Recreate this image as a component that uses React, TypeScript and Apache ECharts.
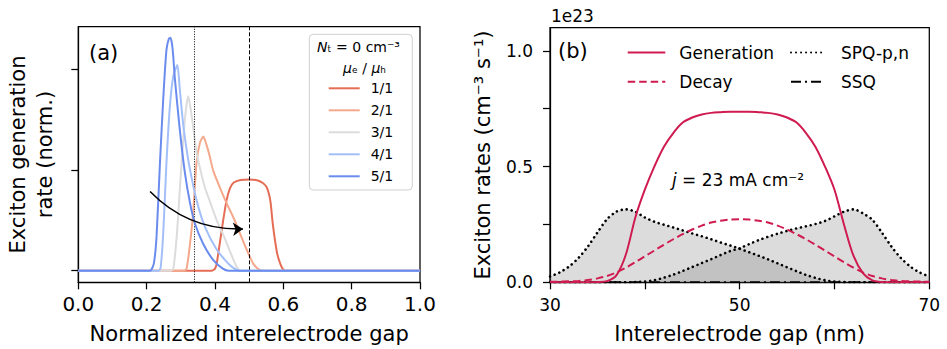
import React, { useEffect, useRef } from 'react';
import * as echarts from 'echarts';

const FONT = 'DejaVu Sans';
const CRIMSON = '#cf1b50';

// ---------- Panel (a): normalized exciton generation profiles ----------
const ratioLabels = ['1/1', '2/1', '3/1', '4/1', '5/1'];
const ratioColors = ['#e56d55', '#f5a98c', '#dcdcdc', '#a3bffa', '#6a8cee'];

const r1X = [0, 0.39, 0.4, 0.405, 0.414, 0.424, 0.434, 0.444, 0.455, 0.475, 0.5, 0.525, 0.54, 0.551, 0.558, 0.563, 0.568, 0.574, 0.582, 0.592, 0.6, 0.61, 1];
const r1Y = [0, 0, 0.02, 0.07, 0.27, 0.5, 0.7, 0.82, 0.875, 0.9, 0.905, 0.895, 0.87, 0.83, 0.76, 0.67, 0.5, 0.34, 0.17, 0.06, 0.01, 0, 0];

const r2X = [0, 0.31, 0.317, 0.327, 0.336, 0.346, 0.356, 0.366, 0.375, 0.385, 0.395, 0.415, 0.434, 0.455, 0.473, 0.49, 0.502, 0.512, 0.522, 0.53, 0.54, 1];
const r2Y = [0, 0, 0.02, 0.27, 0.57, 1.07, 1.27, 1.33, 1.25, 1.13, 0.99, 0.82, 0.67, 0.52, 0.37, 0.23, 0.14, 0.07, 0.03, 0.01, 0, 0];

const r3X = [0, 0.27, 0.278, 0.288, 0.297, 0.307, 0.315, 0.322, 0.332, 0.346, 0.358, 0.37, 0.388, 0.405, 0.425, 0.443, 0.455, 0.465, 0.475, 1];
const r3Y = [0, 0, 0.02, 0.34, 0.8, 1.3, 1.6, 1.73, 1.53, 1.17, 0.99, 0.83, 0.66, 0.5, 0.35, 0.2, 0.1, 0.03, 0, 0];

const r4X = [0, 0.235, 0.241, 0.249, 0.258, 0.268, 0.278, 0.29, 0.297, 0.307, 0.317, 0.327, 0.346, 0.37, 0.405, 0.439, 0.455, 0.47, 1];
const r4Y = [0, 0, 0.03, 0.4, 1.07, 1.63, 1.93, 2.04, 1.8, 1.45, 1.2, 1.0, 0.7, 0.44, 0.21, 0.07, 0.025, 0, 0];

const r5X = [0, 0.21, 0.221, 0.229, 0.239, 0.249, 0.258, 0.265, 0.27, 0.276, 0.283, 0.297, 0.312, 0.327, 0.341, 0.365, 0.394, 0.423, 0.44, 1];
const r5Y = [0, 0, 0.07, 0.34, 1.07, 1.73, 2.19, 2.3, 2.31, 2.2, 1.89, 1.4, 0.97, 0.67, 0.47, 0.27, 0.11, 0.02, 0, 0];

const ratioXs = [r1X, r2X, r3X, r4X, r5X];
const ratioYs = [r1Y, r2Y, r3Y, r4Y, r5Y];

const dottedLineX = 0.339;
const dashedLineX = 0.5;
const arrowStart = [0.21, 0.785];
const arrowEnd = [0.482, 0.414];
const yTicksA = [0, 1, 2];

// ---------- Panel (b): exciton rates (units of 1e23 cm^-3 s^-1) ----------
const gapB = [30, 31, 32, 33, 34, 35, 36, 37, 38, 39, 40, 41, 42, 43, 44, 45, 46, 47, 48, 49, 50, 51, 52, 53, 54, 55, 56, 57, 58, 59, 60, 61, 62, 63, 64, 65, 66, 67, 68, 69, 70];
const generation = [0, 0, 0, 0, 0, 0.001, 0.005, 0.03, 0.12, 0.28, 0.4, 0.5, 0.585, 0.645, 0.69, 0.712, 0.725, 0.732, 0.735, 0.737, 0.737, 0.737, 0.735, 0.732, 0.725, 0.712, 0.69, 0.645, 0.585, 0.5, 0.4, 0.25, 0.115, 0.04, 0.008, 0.001, 0, 0, 0, 0, 0];
const decay = [0.002, 0.003, 0.004, 0.006, 0.01, 0.017, 0.027, 0.043, 0.063, 0.087, 0.112, 0.137, 0.162, 0.186, 0.208, 0.228, 0.245, 0.258, 0.266, 0.271, 0.272, 0.271, 0.266, 0.258, 0.245, 0.228, 0.208, 0.186, 0.162, 0.137, 0.112, 0.087, 0.063, 0.043, 0.027, 0.017, 0.01, 0.006, 0.004, 0.003, 0.002];
const spqP = [0.025, 0.042, 0.068, 0.105, 0.155, 0.215, 0.272, 0.305, 0.315, 0.305, 0.28, 0.262, 0.249, 0.237, 0.224, 0.211, 0.199, 0.186, 0.172, 0.159, 0.145, 0.13, 0.115, 0.099, 0.082, 0.065, 0.048, 0.032, 0.019, 0.009, 0.003, 0.001, 0, 0, 0, 0, 0, 0, 0, 0, 0];
const spqN = [0, 0, 0, 0, 0, 0, 0, 0, 0, 0.001, 0.003, 0.009, 0.02, 0.033, 0.049, 0.066, 0.083, 0.1, 0.118, 0.135, 0.147, 0.165, 0.182, 0.197, 0.21, 0.222, 0.233, 0.242, 0.252, 0.265, 0.285, 0.305, 0.315, 0.298, 0.27, 0.215, 0.155, 0.105, 0.068, 0.042, 0.025];
const ssq = [0, 0, 0, 0, 0, 0, 0, 0, 0, 0, 0, 0, 0, 0, 0, 0, 0, 0, 0, 0, 0, 0, 0, 0, 0, 0, 0, 0, 0, 0, 0, 0, 0, 0, 0, 0, 0, 0, 0, 0, 0];
const xTicksB = [30, 40, 50, 60, 70];
const xLabelsB = [30, 50, 70];
const yTicksB = [0, 0.25, 0.5, 0.75, 1.0];
const yLabelsB = [0, 0.5, 1.0];

const zip = (xs: number[], ys: number[]) => xs.map((x, i) => [x, ys[i]]);

const axisLine = { show: true, onZero: false, lineStyle: { color: '#000', width: 1.25 } };
const tick = { show: true, inside: false, length: 7, lineStyle: { color: '#000', width: 1.25 } };
const nameStyle = { fontSize: 21, color: '#000', fontFamily: FONT };
const hiddenSymbol = { opacity: 0, color: 'transparent', borderWidth: 0 };

function buildOption(): any {
  const ratioSeries = ratioLabels.map((name, i) => ({
    type: 'line',
    name,
    xAxisIndex: 0,
    yAxisIndex: 0,
    data: zip(ratioXs[i], ratioYs[i]),
    symbol: 'none',
    showSymbol: false,
    smooth: 0.2,
    lineStyle: { color: ratioColors[i], width: 2 },
    itemStyle: { color: ratioColors[i] },
    z: 2 + i,
    ...(i === 4
      ? {
          markLine: {
            silent: true,
            symbol: ['none', 'none'],
            label: { show: false },
            data: [
              { xAxis: dottedLineX, lineStyle: { color: '#000', width: 1, type: [1, 1.5] } },
              { xAxis: dashedLineX, lineStyle: { color: '#000', width: 1, type: [4, 2] } },
            ],
          },
        }
      : {}),
  }));

  const spqStyle = { color: '#000', width: 2.6, type: [0.01, 5], cap: 'round' };
  const bSeries = [
    {
      type: 'line', name: 'SPQ-p,n', xAxisIndex: 1, yAxisIndex: 1,
      data: zip(gapB, spqP), symbol: 'none', smooth: 0.3,
      lineStyle: spqStyle, itemStyle: { color: '#000' },
      areaStyle: { color: 'rgba(128,128,128,0.4)' }, z: 2,
    },
    {
      type: 'line', name: 'SPQ-p,n', xAxisIndex: 1, yAxisIndex: 1,
      data: zip(gapB, spqN), symbol: 'none', smooth: 0.3,
      lineStyle: spqStyle, itemStyle: { color: '#000' },
      areaStyle: { color: 'rgba(128,128,128,0.4)' }, z: 2,
    },
    {
      type: 'line', name: 'SSQ', xAxisIndex: 1, yAxisIndex: 1,
      data: zip(gapB, ssq), symbol: 'none',
      lineStyle: { color: '#000', width: 2, type: [10, 4, 2, 4] }, itemStyle: { color: '#000' }, z: 3,
    },
    {
      type: 'line', name: 'Generation', xAxisIndex: 1, yAxisIndex: 1,
      data: zip(gapB, generation), symbol: 'none', smooth: 0.3,
      lineStyle: { color: CRIMSON, width: 2 }, itemStyle: { color: CRIMSON }, z: 4,
    },
    {
      type: 'line', name: 'Decay', xAxisIndex: 1, yAxisIndex: 1,
      data: zip(gapB, decay), symbol: 'none', smooth: 0.3,
      lineStyle: { color: CRIMSON, width: 2, type: [7.5, 4] }, itemStyle: { color: CRIMSON }, z: 4,
    },
  ];

  return {
    animation: false,
    backgroundColor: '#fff',
    textStyle: { fontFamily: FONT },
    grid: [
      { left: 78.3, top: 26.7, width: 341.7, height: 255.6, show: true, borderColor: '#000', borderWidth: 1.25, backgroundColor: 'transparent', containLabel: false, outerBoundsMode: 'none' },
      { left: 550, top: 27.7, width: 379.3, height: 254.6, show: true, borderColor: '#000', borderWidth: 1.25, backgroundColor: 'transparent', containLabel: false, outerBoundsMode: 'none' },
    ],
    xAxis: [
      {
        type: 'value', gridIndex: 0, min: 0, max: 1, interval: 0.2,
        axisLine, axisTick: tick, splitLine: { show: false },
        axisLabel: { fontSize: 20, color: '#000', fontFamily: FONT, margin: 12, formatter: (v: number) => v.toFixed(1) },
        name: 'Normalized interelectrode gap', nameLocation: 'middle', nameGap: 41, nameTextStyle: nameStyle,
      },
      {
        type: 'value', gridIndex: 1, min: 30, max: 70, interval: 10,
        axisLine, axisTick: { ...tick, customValues: xTicksB }, splitLine: { show: false },
        axisLabel: { fontSize: 17, color: '#000', fontFamily: FONT, margin: 14, customValues: xLabelsB },
        name: 'Interelectrode gap (nm)', nameLocation: 'middle', nameGap: 41, nameTextStyle: nameStyle,
      },
    ],
    yAxis: [
      {
        type: 'value', gridIndex: 0, min: -0.115, max: 2.42,
        axisLine, axisTick: { ...tick, customValues: yTicksA }, splitLine: { show: false },
        axisLabel: { show: false },
      },
      {
        type: 'value', gridIndex: 1, min: 0, max: 1.1, interval: 0.25,
        axisLine, axisTick: { ...tick, customValues: yTicksB }, splitLine: { show: false },
        axisLabel: { fontSize: 17, color: '#000', fontFamily: FONT, margin: 17, customValues: yLabelsB, formatter: (v: number) => v.toFixed(1) },
      },
    ],
    legend: [
      {
        data: ratioLabels, orient: 'vertical', left: 327.7, top: 81.3,
        itemWidth: 31, itemHeight: 14, itemGap: 8, padding: 0, selectedMode: false,
        itemStyle: hiddenSymbol,
        textStyle: { fontSize: 14, color: '#000', fontFamily: FONT, padding: [0, 0, 0, 6] }, z: 5,
      },
      {
        data: ['Generation', 'Decay'], orient: 'vertical', left: 626.7, top: 44,
        itemWidth: 37.6, itemHeight: 14, itemGap: 12.3, padding: 0, selectedMode: false,
        itemStyle: hiddenSymbol,
        textStyle: { fontSize: 17, color: '#000', fontFamily: FONT, padding: [0, 0, 0, 9] },
      },
      {
        data: ['SPQ-p,n', 'SSQ'], orient: 'vertical', left: 790, top: 44,
        itemWidth: 34, itemHeight: 14, itemGap: 12.3, padding: 0, selectedMode: false,
        itemStyle: hiddenSymbol,
        textStyle: { fontSize: 17, color: '#000', fontFamily: FONT, padding: [0, 0, 0, 11] },
      },
    ],
    graphic: [
      {
        type: 'rect', z: 3,
        shape: { x: 309.3, y: 34.3, width: 103, height: 155.7, r: 4 },
        style: { fill: 'rgba(255,255,255,0.8)', stroke: '#d0d0d0', lineWidth: 1 },
      },
      {
        type: 'text', x: 358.5, y: 46.7, z: 6,
        style: {
          text: '{i|N}ₜ = 0 cm⁻³',
          rich: { i: { fontStyle: 'italic', fontSize: 14, fontFamily: FONT, fill: '#000' } },
          fontSize: 14, fontFamily: FONT, fill: '#000', align: 'center', verticalAlign: 'middle',
        },
      },
      {
        type: 'text', x: 364.5, y: 68, z: 6,
        style: {
          text: '{i|μ}ₑ / {i|μ}ₕ',
          rich: { i: { fontStyle: 'italic', fontSize: 14, fontFamily: FONT, fill: '#000' } },
          fontSize: 14, fontFamily: FONT, fill: '#000', align: 'center', verticalAlign: 'middle',
        },
      },
      {
        type: 'text', x: 89, y: 53, z: 6,
        style: { text: '(a)', fontSize: 21, fontFamily: FONT, fill: '#000', align: 'left', verticalAlign: 'middle' },
      },
      {
        type: 'text', x: 558, y: 51, z: 6,
        style: { text: '(b)', fontSize: 21, fontFamily: FONT, fill: '#000', align: 'left', verticalAlign: 'middle' },
      },
      {
        type: 'text', x: 551, y: 16, z: 6,
        style: { text: '1e23', fontSize: 17, fontFamily: FONT, fill: '#000', align: 'left', verticalAlign: 'middle' },
      },
      {
        type: 'text', x: 738, y: 180, z: 6,
        style: {
          text: '{i|j} = 23 mA cm⁻²',
          rich: { i: { fontStyle: 'italic', fontSize: 17, fontFamily: FONT, fill: '#000' } },
          fontSize: 17, fontFamily: FONT, fill: '#000', align: 'center', verticalAlign: 'middle',
        },
      },
      {
        type: 'text', x: 17.5, y: 154.5, rotation: Math.PI / 2, z: 6,
        style: { text: 'Exciton generation', fontSize: 21, fontFamily: FONT, fill: '#000', align: 'center', verticalAlign: 'middle' },
      },
      {
        type: 'text', x: 45, y: 154.5, rotation: Math.PI / 2, z: 6,
        style: { text: 'rate (norm.)', fontSize: 21, fontFamily: FONT, fill: '#000', align: 'center', verticalAlign: 'middle' },
      },
      {
        type: 'text', x: 483, y: 155, rotation: Math.PI / 2, z: 6,
        style: { text: 'Exciton rates (cm⁻³ s⁻¹)', fontSize: 21, fontFamily: FONT, fill: '#000', align: 'center', verticalAlign: 'middle' },
      },
    ],
    series: [
      ...ratioSeries,
      {
        type: 'lines', coordinateSystem: 'cartesian2d', xAxisIndex: 0, yAxisIndex: 0,
        symbol: ['none', 'arrow'], symbolSize: 10, silent: true,
        lineStyle: { color: '#000', width: 1.5, curveness: -0.22, opacity: 1 },
        data: [{ coords: [arrowStart, arrowEnd] }],
        z: 10,
      },
      ...bSeries,
    ],
  };
}

export default function App() {
  const ref = useRef<HTMLDivElement>(null);
  useEffect(() => {
    if (!ref.current) return;
    const chart = echarts.init(ref.current, null, { renderer: 'svg' });
    chart.setOption(buildOption());
    return () => chart.dispose();
  }, []);
  return (
    <div
      ref={ref}
      style={{ position: 'fixed', left: 0, top: 0, width: 947, height: 349, background: '#fff' }}
    />
  );
}
